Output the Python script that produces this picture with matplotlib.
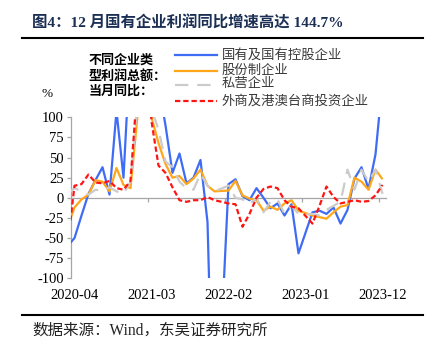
import matplotlib
matplotlib.use("Agg")
import matplotlib.pyplot as plt
from matplotlib.lines import Line2D
import numpy as np
import pandas as pd

# Monthly YoY growth of industrial profits by ownership type (%), Jan has no release
months = [str(p) for p in pd.period_range("2020-03", "2023-12", freq="M")]

soe = [-60, -50, -22, 5, 22, 38, 4, 108, 25, 190,
       None, 320, 200, 140, 90, 31, 55, 18, 25, 47, -30, -349,
       None, 17, 23, 2, -3, 12, 0, -13, -7, -22, -8, -69,
       None, -18, -16, -20, -12, -32, -15, 24, 38, 11, 54, 144.7]
joint_stock = [-36, -12, -2, 4, 22, 20, 8, 37, 16, 12,
               None, 192, 100, 68, 42, 25, 27, 17, 24, 35, 15, 8,
               None, 9, 21, 3, -1, -3, -16, -11, -15, -7, -3, -16,
               None, -22, -24, -26, -18, -11, -9, 25, 20, 10, 35, 23]
private = [5, 12, 8, 4, 10, 9, 13, 8, 5, 20,
           None, 220, 110, 85, 45, 38, 20, 12, 10, 30, 15, 8,
           None, 15, 0, -2, -8, 0, -18, -5, -2, -20, -10, -20,
           None, -20, -22, -15, -10, -5, 35, 10, 35, 20, 35, 5]
foreign = [-59, 15, 17, 29, 19, 18, 21, 12, 10, 21,
           None, 260, 95, 40, 31, 13, -3, -5, -3, -3, 1, -3,
           None, -7, -8, -36, -20, 0, 11, 14, 12, -3, -11, -13,
           None, -32, -10, 14, 1, -7, -5, -3, -5, -4, 3, 16]

series_names = ["国有及国有控股企业", "股份制企业", "私营企业", "外商及港澳台商投资企业"]
tick_months = ["2020-04", "2021-03", "2022-02", "2023-01", "2023-12"]
y_ticks = list(range(-100, 101, 25))

plt.rcParams['font.family'] = ['Liberation Serif', 'Noto Sans CJK SC']

W, H = 433, 348
fig = plt.figure(figsize=(W / 100, H / 100), dpi=100)


def fx(px):
    return px / W


def fy(py):
    return 1 - py / H


ax = fig.add_axes([fx(71), fy(278.3), fx(386) - fx(71), fy(117.3) - fy(278.3)])

start = months.index("2020-04")
pos = np.arange(len(months)) - start

styles = [
    dict(color="#3F6CF4", lw=1.6, ls="-"),
    dict(color="#FFA61A", lw=1.6, ls="-"),
    dict(color="#CBCBCB", lw=1.6, ls=(0, (6, 4))),
    dict(color="#FF1414", lw=1.6, ls=(0, (2.4, 1.3))),
]
data = [soe, joint_stock, private, foreign]

for k, (vals, st) in enumerate(zip(data, styles)):
    v = np.array([np.nan if x is None else x for x in vals], dtype=float)
    m = ~np.isnan(v)
    ax.plot(pos[m], v[m], color=st["color"], lw=st["lw"], ls=st["ls"],
            zorder=3 + k, solid_capstyle="butt", dash_capstyle="butt")

ax.set_xlim(-0.5, 44.5)
ax.set_ylim(-100, 100)

axis_gray = "#A6A6A6"
for s in ["top", "right"]:
    ax.spines[s].set_visible(False)
ax.spines["left"].set_color(axis_gray)
ax.spines["bottom"].set_color(axis_gray)
ax.spines["bottom"].set_position(("data", 0))
ax.spines["left"].set_linewidth(0.9)
ax.spines["bottom"].set_linewidth(0.9)

ax.set_yticks(y_ticks)
ax.set_yticklabels([str(t) for t in y_ticks])
ax.tick_params(axis="y", direction="out", length=3, width=0.9, color=axis_gray,
               labelsize=10.5, pad=2, labelcolor="black")

label_pos = [months.index(m) - start for m in tick_months]
ax.set_xticks([p - 0.5 for p in label_pos[1:]])
ax.tick_params(axis="x", direction="out", length=3, width=0.9, color=axis_gray,
               labelbottom=False)

sec = ax.secondary_xaxis("bottom")
sec.set_xticks(label_pos)
sec.set_xticklabels(tick_months)
sec.spines["bottom"].set_visible(False)
sec.tick_params(length=0, pad=8, labelsize=10.5)

fig.text(fx(47), fy(94), "%", fontsize=9.5, ha="center", va="center")

# Title and rules
fig.text(fx(32), fy(23), "图4：12 月国有企业利润同比增速高达 144.7%",
         fontsize=11.1, fontweight="bold", color="#1B2F55", va="center", ha="left")
fig.add_artist(Line2D([fx(22), fx(423)], [fy(37.5)] * 2, color="black", lw=1.5))
fig.add_artist(Line2D([fx(22), fx(423)], [fy(315)] * 2, color="black", lw=1.5))
fig.text(fx(32), fy(331), "数据来源：Wind，东吴证券研究所", fontsize=11.2,
         color="#222222", va="center", ha="left")

# Legend block
fig.text(fx(89), fy(76), "不同企业类\n型利润总额：\n当月同比：", fontsize=9.4,
         fontweight="bold", va="center", ha="left", linespacing=1.3)
rows = [55, 70.7, 84.5, 101]
for st, name, ry in zip(styles, series_names, rows):
    fig.add_artist(Line2D([fx(175), fx(216.5)], [fy(ry)] * 2, color=st["color"],
                          lw=st["lw"], ls=st["ls"], dash_capstyle="butt"))
    fig.text(fx(221.5), fy(ry), name, fontsize=9.6, color="#3A3A3A",
             va="center", ha="left")

fig.savefig("out.png", dpi=100)
